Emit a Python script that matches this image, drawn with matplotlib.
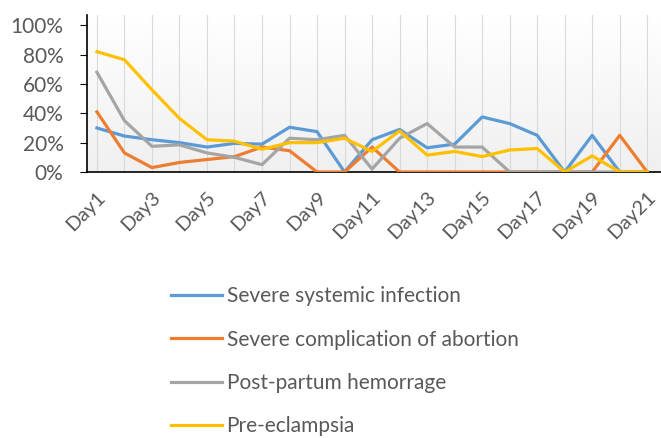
import matplotlib
matplotlib.use("Agg")
import matplotlib.pyplot as plt
import matplotlib.transforms as mtransforms
import numpy as np
from matplotlib.ticker import PercentFormatter

days = [f"Day{i}" for i in range(1, 22)]
severe_infection = [30, 24.5, 22, 20, 17, 19.5, 19, 30.5, 27.5, 0, 22, 29, 16.5, 19, 37.5, 33, 25, 0, 25, 0, 0]
abortion_comp = [41, 13, 3, 6.5, 8.5, 10.5, 17, 14.5, 0, 0, 17, 0, 0, 0, 0, 0, 0, 0, 0, 25, 0]
pph = [68, 35, 17.5, 18.5, 13, 10, 5, 23, 22, 25, 2, 23, 33, 17, 17, 0, 0, 0, 0, 0, 0]
pre_eclampsia = [82, 76.5, 56, 36.5, 22, 21, 15.5, 20, 20, 23, 14, 28, 11.5, 14, 10.5, 15, 16, 0, 11, 0, 0]

series = [
    ("Severe systemic infection", severe_infection, "#5B9BD5"),
    ("Severe complication of abortion", abortion_comp, "#ED7D31"),
    ("Post-partum hemorrage", pph, "#A5A5A5"),
    ("Pre-eclampsia", pre_eclampsia, "#FFC000"),
]

plt.rcParams['font.family'] = ['Lato', 'DejaVu Sans']
txt = "#595959"

W, H = 661, 438
fig = plt.figure(figsize=(W / 100, H / 100), dpi=100)
ax = fig.add_axes([87 / W, 1 - 172 / H, 1 - 87 / W, (172 - 15) / H])

x = np.arange(1, len(days) + 1)
# gradient background
grad = np.linspace(1.0, 0.94, 256).reshape(-1, 1)
ax.imshow(np.dstack([grad, grad, grad]), extent=[0, 1, 0, 1], transform=ax.transAxes,
          aspect='auto', zorder=0)
for xi in x:
    ax.axvline(xi, color="#d9d9d9", lw=0.8, zorder=1)

for name, vals, col in series:
    ax.plot(x, np.array(vals) / 100, color=col, lw=2.3, label=name, zorder=3,
            solid_joinstyle='round')

ax.set_xlim(0.64, 21.5)
ax.set_ylim(0, 1.07)
ax.set_yticks(np.arange(0, 1.01, 0.2))
ax.yaxis.set_major_formatter(PercentFormatter(1.0, decimals=0))
ax.set_xticks(x[::2])
ax.set_xticklabels(days[::2], rotation=45, ha='right', rotation_mode='anchor')
offset = mtransforms.ScaledTranslation(-14 / 100, -14 / 100, fig.dpi_scale_trans)
for lab in ax.get_xticklabels():
    lab.set_transform(lab.get_transform() + offset)
for sp in ['top', 'right']:
    ax.spines[sp].set_visible(False)
for sp in ['left', 'bottom']:
    ax.spines[sp].set_color('black')
    ax.spines[sp].set_linewidth(1.2)
ax.tick_params(axis='y', labelsize=15, colors=txt, length=5, color='black', pad=12)
ax.tick_params(axis='x', labelsize=14.5, colors=txt, length=0, pad=12)

handles, labels = ax.get_legend_handles_labels()
leg = fig.legend(handles, labels, loc='upper left', bbox_to_anchor=(163 / W, 1 - 278 / H),
                 frameon=False, fontsize=15, labelcolor=txt, handlelength=2.45,
                 handletextpad=0.2, labelspacing=1.12, borderaxespad=0)
for l in leg.get_lines():
    l.set_linewidth(2.3)

fig.savefig("out.png", dpi=100)
